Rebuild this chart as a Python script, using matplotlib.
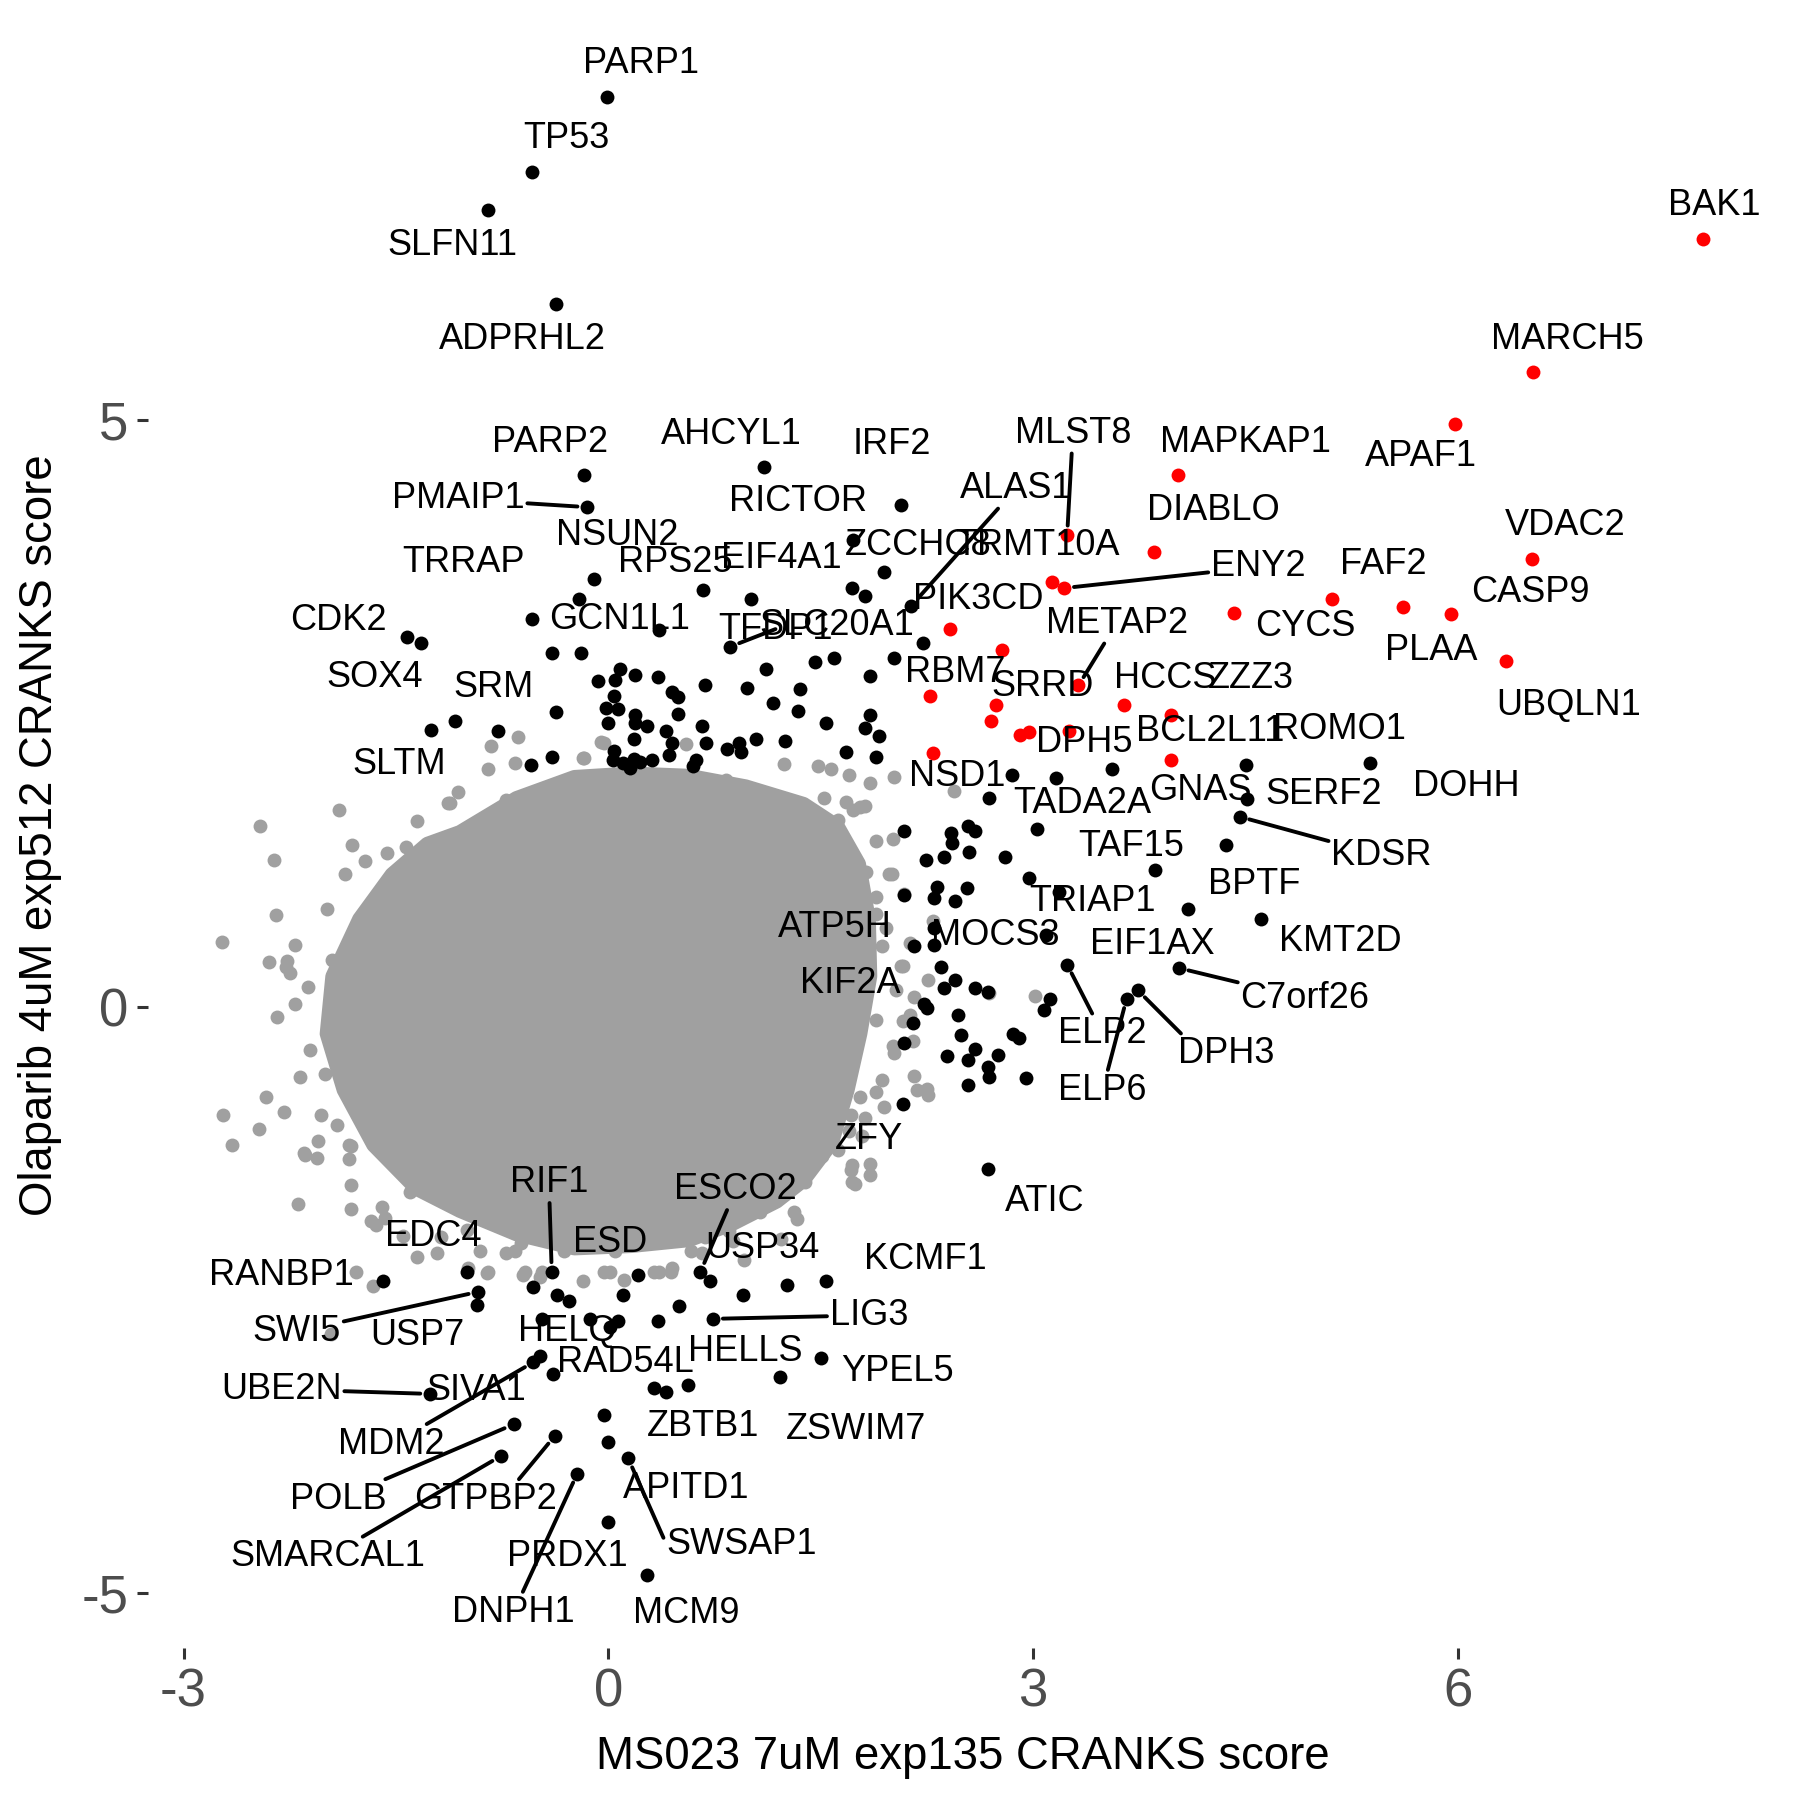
import numpy as np
import matplotlib
matplotlib.use("Agg")
from matplotlib import pyplot as plt

plt.rcParams['font.family'] = ['Liberation Sans', 'DejaVu Sans']
plt.rcParams['axes.unicode_minus'] = False

# ---- data: CRANKS scores (x = MS023 7uM exp135, y = Olaparib 4uM exp512) ----

# hits in both screens (red), labelled
red_gene = ["BAK1", "MARCH5", "APAF1", "MAPKAP1", "MLST8", "DIABLO", "VDAC2", "TRMT10A",
            "ENY2", "FAF2", "PLAA", "CASP9", "CYCS", "UBQLN1", "PIK3CD", "RBM7", "METAP2",
            "SRRD", "HCCS", "ZZZ3", "BCL2L11", "DPH5", "NSD1"]
red_x = [7.73, 6.53, 5.98, 4.02, 3.24, 3.85, 6.52, 3.13, 3.22, 5.11, 5.61, 5.95, 4.42, 6.34,
         2.41, 2.27, 3.32, 2.74, 3.64, 3.97, 3.97, 3.25, 2.29]
red_y = [6.55, 5.41, 4.97, 4.53, 4.02, 3.88, 3.82, 3.62, 3.57, 3.48, 3.41, 3.35, 3.36, 2.95,
         3.22, 2.65, 2.74, 2.57, 2.57, 2.49, 2.10, 2.35, 2.16]
# red, no label
red_ox = [2.78, 2.70, 2.91, 2.97]
red_oy = [3.04, 2.44, 2.32, 2.34]

# hits in one screen (black), labelled
blk_gene = ["PARP1", "TP53", "SLFN11", "ADPRHL2", "PARP2", "PMAIP1", "NSUN2", "TRRAP", "RPS25",
            "EIF4A1", "AHCYL1", "IRF2", "RICTOR", "ZCCHC8", "ALAS1", "SLC20A1", "TFDP1", "GCN1L1",
            "CDK2", "SOX4", "SRM", "SLTM", "ROMO1", "TADA2A", "GNAS", "SERF2", "DOHH", "KDSR",
            "TAF15", "BPTF", "TRIAP1", "KMT2D", "ATP5H", "MOCS3", "EIF1AX", "KIF2A", "C7orf26",
            "ELP2", "DPH3", "ELP6", "ZFY", "ATIC", "RANBP1", "EDC4", "SWI5", "USP7", "RIF1", "ESD",
            "ESCO2", "USP34", "KCMF1", "LIG3", "HELQ", "HELLS", "RAD54L", "YPEL5", "UBE2N", "SIVA1",
            "ZBTB1", "ZSWIM7", "MDM2", "APITD1", "POLB", "GTPBP2", "SMARCAL1", "SWSAP1", "PRDX1",
            "DNPH1", "MCM9"]
blk_x = [-0.01, -0.54, -0.85, -0.37, -0.17, -0.15, -0.10, -0.54, 0.67,
         1.01, 1.10, 2.07, 1.73, 1.95, 2.14, 1.72, 0.86, 0.36,
         -1.42, -1.32, -0.78, -1.25, 4.50, 3.16, 3.56, 4.51, 5.38, 4.46,
         3.86, 4.36, 3.18, 4.61, 2.09, 2.30, 4.09, 2.16, 4.03,
         3.24, 3.74, 3.66, 2.08, 2.68, -1.59, -1.00, -0.92, -0.93, -0.40, 0.21,
         0.65, 0.72, 1.54, 0.74, -0.13, 0.56, 0.32, 1.50, -1.26, -0.39,
         0.41, 1.21, -0.53, 0.00, -0.67, -0.38, -0.76, 0.14, 0.00,
         -0.22, 0.27]
blk_y = [7.76, 7.12, 6.79, 5.99, 4.53, 4.26, 3.65, 3.31, 3.55,
         3.48, 4.60, 4.28, 3.98, 3.71, 3.42, 3.57, 3.07, 3.21,
         3.15, 3.10, 2.35, 2.36, 2.06, 1.95, 2.03, 1.77, 2.08, 1.62,
         1.17, 1.38, 0.98, 0.75, 0.95, 0.67, 0.83, 0.52, 0.33,
         0.36, 0.14, 0.07, -0.83, -1.38, -2.34, -2.26, -2.43, -2.54, -2.26, -2.29,
         -2.26, -2.34, -2.34, -2.66, -2.66, -3.22, -3.25, -2.99, -3.30, -3.13,
         -3.28, -3.16, -3.03, -3.71, -3.56, -3.66, -3.83, -3.85, -4.39,
         -3.98, -4.84]

# black, no label
blk_ox = [-0.21, -0.40, -0.19, 1.46, 1.59, 2.02, 2.22, 1.11, 0.08, 0.05, 0.19, 0.35, -0.07, 0.68,
          0.98, 1.35, 1.85, 0.45, 0.49, 0.04, -0.02, 0.07, 1.16, 1.34, -0.37, -1.08, 0.19, 0.49,
          0.00, 0.19, 0.27, 0.41, 0.66, 1.54, 0.18, 0.45, 0.69, 1.04, 1.25, 0.84, 0.92, 0.94,
          1.68, 0.04, 0.43, -0.55, -0.40, 0.03, 0.10, 0.18, 0.22, 0.31, 0.15, 0.62, 0.60, 1.89,
          1.91, 1.81, 1.85, 1.81,
          2.85, 2.69, 3.03, 2.09, 2.42, 2.43, 2.54, 2.59, 2.24, 2.37, 2.55, 2.80, 2.97, 2.32,
          2.30, 2.45, 2.53, 2.30, 3.09, 2.35, 2.45, 2.37, 2.59, 2.68, 3.12, 3.08, 2.23, 2.25,
          2.15, 2.47, 2.49, 2.86, 2.90, 2.59, 2.54, 2.75, 2.68, 2.69, 2.39, 2.09, 2.54, 2.95,
          -0.53, -0.36, -0.28, 0.10, -0.47, 0.07, 0.01, 0.35, 0.50, 0.95, 1.26, -0.48, -0.03]
blk_oy = [3.48, 3.02, 3.02, 2.94, 2.97, 2.97, 3.10, 2.88, 2.88, 2.79, 2.83, 2.81, 2.78, 2.74,
          2.72, 2.71, 2.82, 2.68, 2.64, 2.65, 2.55, 2.54, 2.59, 2.52, 2.51, 2.44, 2.49, 2.50,
          2.42, 2.42, 2.39, 2.35, 2.39, 2.42, 2.28, 2.25, 2.25, 2.28, 2.27, 2.20, 2.25, 2.17,
          2.17, 2.18, 2.15, 2.06, 2.13, 2.10, 2.08, 2.11, 2.09, 2.10, 2.04, 2.10, 2.05, 2.13,
          2.31, 2.38, 2.49, 3.50,
          1.98, 1.78, 1.52, 1.50, 1.48, 1.40, 1.54, 1.50, 1.25, 1.28, 1.32, 1.28, 1.10, 1.02,
          0.93, 0.90, 1.01, 0.53, 0.61, 0.34, 0.23, 0.16, 0.16, 0.13, 0.07, -0.03, 0.02, -0.01,
          -0.14, -0.07, -0.24, -0.23, -0.27, -0.36, -0.45, -0.41, -0.51, -0.60, -0.42, -0.31, -0.67, -0.61,
          -2.39, -2.46, -2.51, -2.46, -2.66, -2.68, -2.73, -2.68, -2.55, -2.46, -2.37, -2.98, -3.48]

# the rest of the genes: outline of the dense cloud and the scattered ones around it
core_x = [-1.05, -0.65, -0.24, 0.16, 0.57, 0.97, 1.38, 1.62, 1.77, 1.84, 1.85, 1.78, 1.69,
          1.58, 1.38, 1.19, 0.88, 0.57, 0.16, -0.24, -0.65, -1.05, -1.36, -1.66, -1.87, -1.99,
          -1.95, -1.76, -1.53, -1.28]
core_y = [1.49, 1.78, 1.96, 1.99, 1.97, 1.88, 1.73, 1.54, 1.22, 0.75, 0.26, -0.23, -0.71,
          -1.16, -1.48, -1.66, -1.85, -1.99, -2.04, -2.06, -1.94, -1.74, -1.55, -1.18, -0.71, -0.23,
          0.26, 0.75, 1.13, 1.39]
bg_x = [-2.46, -2.36, -1.90, -1.81, -1.72, -1.86, -1.35, -1.12, -1.43, -1.56, -2.35, -1.99, -2.73,
        -2.40, -2.21, -2.27, -2.12, -2.21, -2.34, -1.95, -2.28, -2.25, -2.11, -1.92, -2.18, -2.00,
        -2.42, -2.72, -2.29, -2.03, -2.47, -2.66, -2.14, -2.06, -1.82, -1.92, -1.83, -2.05, -2.15,
        -1.83, -1.82, -2.19, -1.82, -1.64, -1.40, -1.12, -1.58, -1.68, -1.60, -1.45, -1.35, -1.21,
        -1.96, -1.66, -1.78,
        -0.85, -0.64, -0.83, -0.66, -1.06, -1.13, -0.72, -0.38, -0.39, -0.18, -0.05, -0.17, -0.03,
        0.15, 0.55, 0.72, 0.83, 1.24, 1.48, 1.57, 1.70, 1.85, 2.02, 1.43, 1.52, 1.68, 1.78, 1.62,
        1.89, 1.81, 1.73, 1.62, 1.51, 1.41, 2.01, 2.44,
        2.00, 1.89, 1.82, 1.89, 1.96, 2.07, 1.93, 1.78, 2.03, 2.13, 1.89, 2.02, 2.15, 2.18, 2.26,
        1.93, 1.89, 1.78, 1.70, 1.79, 1.72, 1.72, 1.85, 1.62, 1.98, 2.09, 2.29, 2.13, 2.26, 2.08,
        3.01, 2.69, 2.16, 2.08, 2.01, 2.16, 2.25, 1.95, 1.71, 1.81, 1.85, 1.71, 1.74, 1.51, 1.41,
        1.39, 1.31, 1.07,
        1.07, 1.33, 1.22, 0.85, 0.45, 0.32, 0.20, 0.05, 0.01, -0.18, -0.48, -0.59, -0.85, -0.91,
        -1.00, -1.18, -0.66, -0.31, -0.38, 0.58, 0.68, 0.88, 0.96, 0.66, 0.44, -0.99, -0.86,
        -0.60, -0.47, -0.72, -0.62, -0.03, 0.11, 0.36]
bg_y = [1.54, 1.25, 1.68, 1.38, 1.24, 1.13, 1.58, 1.74, 1.36, 1.31, 0.78, 0.83, 0.55,
        0.38, 0.53, 0.39, 0.17, 0.02, -0.09, 0.40, 0.34, 0.29, -0.37, -0.33, -0.60, -0.57,
        -0.77, -0.92, -0.90, -0.92, -1.04, -1.18, -1.26, -1.29, -1.19, -1.01, -1.18, -1.14, -1.25,
        -1.30, -1.52, -1.68, -1.72, -1.86, -1.58, -1.51, -1.80, -1.83, -1.71, -1.95, -2.13, -2.10,
        -2.79, -2.38, -2.26,
        2.03, 2.30, 2.22, 2.08, 1.83, 1.74, 1.76, 1.86, 1.84, 2.12, 2.26, 2.12, 2.25,
        1.93, 2.24, 1.78, 1.93, 2.07, 2.05, 2.03, 1.98, 1.91, 1.96, 1.68, 1.78, 1.75, 1.70, 1.42,
        1.41, 1.71, 1.68, 1.59, 1.56, 1.68, 1.43, 1.84,
        1.13, 0.94, 1.15, 0.79, 0.67, 0.35, 0.52, 0.63, 0.14, -0.07, -0.11, -0.39, -0.29, -0.71, -0.75,
        -0.62, -0.73, -0.77, -1.06, -1.10, -1.35, -1.49, -1.43, -1.22, 1.13, 0.96, 0.73, 0.54, 0.23, 0.35,
        0.09, 0.12, 0.08, -0.12, -0.33, -0.59, -0.70, -0.85, -0.92, -0.95, -1.34, -1.39, -1.51, -1.27, -1.25,
        -1.49, -1.75, -1.75,
        -1.67, -1.81, -1.98, -1.91, -2.23, -2.26, -1.94, -2.08, -2.26, -2.34, -2.30, -2.26, -2.26, -2.08,
        -1.90, -1.96, -2.08, -2.08, -2.00, -2.08, -1.96, -2.00, -2.16, -2.10, -2.26, -2.23, -2.27,
        -2.29, -2.26, -2.10, -2.01, -2.26, -2.33, -2.26]

# ---- layout: where each label sits (data units) and which ones get a segment ----
label_pos = {
    "PARP1": (0.23, 8.04), "TP53": (-0.30, 7.40), "SLFN11": (-1.10, 6.49), "ADPRHL2": (-0.61, 5.69),
    "PARP2": (-0.41, 4.81), "PMAIP1": (-1.06, 4.33), "NSUN2": (0.06, 4.02), "TRRAP": (-1.02, 3.79),
    "RPS25": (0.47, 3.79), "EIF4A1": (1.22, 3.82), "AHCYL1": (0.87, 4.88), "IRF2": (2.00, 4.79),
    "RICTOR": (1.34, 4.31), "ALAS1": (2.88, 4.42), "MLST8": (3.28, 4.89), "MAPKAP1": (4.50, 4.81),
    "DIABLO": (4.27, 4.23), "ZCCHC8": (2.19, 3.93), "TRMT10A": (3.03, 3.93), "ENY2": (4.59, 3.75),
    "PIK3CD": (2.61, 3.47), "SLC20A1": (1.61, 3.25), "TFDP1": (1.18, 3.22), "GCN1L1": (0.08, 3.30),
    "CDK2": (-1.91, 3.29), "SOX4": (-1.65, 2.81), "SRM": (-0.81, 2.72), "SLTM": (-1.48, 2.07),
    "METAP2": (3.59, 3.27), "RBM7": (2.45, 2.85), "SRRD": (3.07, 2.73), "HCCS": (3.93, 2.80),
    "ZZZ3": (4.54, 2.80), "BCL2L11": (4.25, 2.35), "ROMO1": (5.16, 2.36), "DPH5": (3.36, 2.25),
    "NSD1": (2.46, 1.96), "TADA2A": (3.35, 1.73), "GNAS": (4.18, 1.84), "SERF2": (5.05, 1.81),
    "DOHH": (6.06, 1.88), "KDSR": (5.46, 1.29), "TAF15": (3.69, 1.37), "BPTF": (4.56, 1.04),
    "TRIAP1": (3.42, 0.90), "KMT2D": (5.17, 0.56), "ATP5H": (1.60, 0.68), "MOCS3": (2.73, 0.61),
    "EIF1AX": (3.84, 0.53), "KIF2A": (1.71, 0.20), "C7orf26": (4.92, 0.07), "ELP2": (3.49, -0.23),
    "DPH3": (4.36, -0.40), "ELP6": (3.49, -0.71), "ZFY": (1.84, -1.13), "ATIC": (3.08, -1.66),
    "RIF1": (-0.42, -1.50), "ESCO2": (0.90, -1.56), "EDC4": (-1.24, -1.96), "ESD": (0.01, -2.01),
    "USP34": (1.09, -2.06), "KCMF1": (2.24, -2.15), "RANBP1": (-2.31, -2.29), "LIG3": (1.84, -2.63),
    "SWI5": (-2.20, -2.77), "USP7": (-1.35, -2.80), "HELQ": (-0.29, -2.77), "HELLS": (0.97, -2.94),
    "RAD54L": (0.12, -3.03), "YPEL5": (2.04, -3.11), "UBE2N": (-2.31, -3.26), "SIVA1": (-0.93, -3.27),
    "ZBTB1": (0.67, -3.58), "ZSWIM7": (1.75, -3.60), "MDM2": (-1.53, -3.73), "APITD1": (0.55, -4.11),
    "POLB": (-1.91, -4.20), "GTPBP2": (-0.87, -4.20), "SMARCAL1": (-1.98, -4.69),
    "SWSAP1": (0.94, -4.58), "PRDX1": (-0.29, -4.69), "DNPH1": (-0.67, -5.16), "MCM9": (0.55, -5.17),
    "BAK1": (7.81, 6.83), "MARCH5": (6.77, 5.69), "APAF1": (5.74, 4.69), "VDAC2": (6.76, 4.10),
    "FAF2": (5.47, 3.77), "CYCS": (4.92, 3.24), "CASP9": (6.51, 3.53), "PLAA": (5.81, 3.04),
    "UBQLN1": (6.78, 2.57),
}
with_segment = {"PMAIP1", "ALAS1", "MLST8", "ENY2", "TFDP1", "METAP2", "KDSR", "C7orf26", "ELP2",
                "DPH3", "ELP6", "RIF1", "ESCO2", "LIG3", "SWI5", "UBE2N", "MDM2", "POLB", "GTPBP2",
                "SMARCAL1", "SWSAP1", "DNPH1"}
# where on the label box a segment leaves from (default: centre)
seg_from = {"SWSAP1": (0.0, 0.5), "DPH3": (0.1, 0.9), "GTPBP2": (0.7, 0.9)}

GREY = "#A0A0A0"
PT = 100  # marker area
FS = 26   # gene label size

fig = plt.figure(figsize=(18, 18), dpi=100)
ax = fig.add_axes([0.0821, 0.0842, 0.9051, 0.9032])

ax.fill(core_x, core_y, color=GREY, lw=10, joinstyle="round", zorder=1)
ax.scatter(bg_x, bg_y, s=PT, color=GREY, lw=0, zorder=1)
ax.scatter(blk_ox, blk_oy, s=PT, color="black", lw=0, zorder=2)
ax.scatter(blk_x, blk_y, s=PT, color="black", lw=0, zorder=2)
ax.scatter(red_ox, red_oy, s=PT, color="red", lw=0, zorder=3)
ax.scatter(red_x, red_y, s=PT, color="red", lw=0, zorder=3)

for gene, x, y in zip(blk_gene + red_gene, blk_x + red_x, blk_y + red_y):
    tx, ty = label_pos[gene]
    if gene in with_segment:
        ax.annotate(gene, xy=(x, y), xytext=(tx, ty), ha="center", va="center", fontsize=FS,
                    zorder=5, arrowprops=dict(arrowstyle="-", lw=2.8, color="black",
                                              shrinkA=0, shrinkB=7,
                                              relpos=seg_from.get(gene, (0.5, 0.5))))
    else:
        ax.text(tx, ty, gene, ha="center", va="center", fontsize=FS, zorder=5)

# ggplot-like 5% expansion around the data
all_x = np.concatenate([bg_x, blk_x, blk_ox, red_x, red_ox])
all_y = np.concatenate([bg_y, blk_y, blk_oy, red_y, red_oy])
px = 0.05 * (all_x.max() - all_x.min())
py = 0.05 * (all_y.max() - all_y.min())
ax.set_xlim(all_x.min() - px, all_x.max() + px)
ax.set_ylim(all_y.min() - py, all_y.max() + py)

ax.set_xticks([-3, 0, 3, 6])
ax.set_yticks([-5, 0, 5])
for s in ax.spines.values():
    s.set_visible(False)
ax.tick_params(length=8, width=2.2, color="#333333", labelsize=38, labelcolor="#4D4D4D", pad=6)
ax.set_xlabel("MS023 7uM exp135 CRANKS score", fontsize=32.8, labelpad=12)
ax.set_ylabel("Olaparib 4uM exp512 CRANKS score", fontsize=32.8, labelpad=14)

plt.savefig("out.png", dpi=100)
